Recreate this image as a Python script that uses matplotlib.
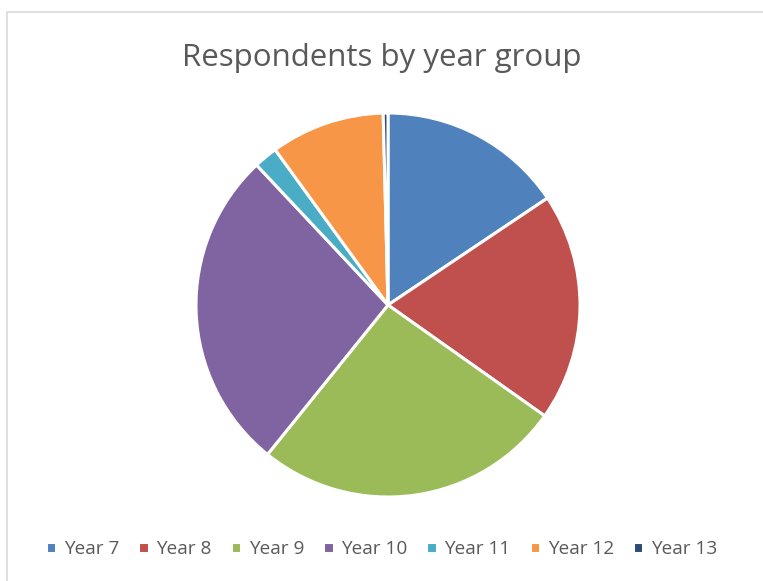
import matplotlib.pyplot as plt
from matplotlib.patches import Rectangle

plt.rcParams['font.family'] = ['Open Sans', 'DejaVu Sans']

groups = ["Year 7", "Year 8", "Year 9", "Year 10", "Year 11", "Year 12", "Year 13"]
respondents = [39, 48, 65, 68, 5, 24, 1]
colors = ["#4F81BD", "#C0504D", "#9BBB59", "#8064A2", "#4BACC6", "#F79646", "#2C4D75"]

W, H = 763, 581
fig = plt.figure(figsize=(W / 100, H / 100), dpi=100)

# chart area border
fig.patches.append(Rectangle((7 / W, -0.01), 1.0, (H - 12) / H + 0.01, transform=fig.transFigure,
                             fill=False, edgecolor="#D9D9D9", linewidth=1.2))

cx, cy, r = 388, 305, 192
ax = fig.add_axes([(cx - r) / W, (H - cy - r) / H, 2 * r / W, 2 * r / H])
wedges, _ = ax.pie(respondents, colors=colors, startangle=90, counterclock=False,
                   wedgeprops=dict(edgecolor="white", linewidth=2.2))
ax.set_xlim(-1, 1)
ax.set_ylim(-1, 1)

fig.text(0.5, (H - 58) / H, "Respondents by year group", ha="center", va="center",
         fontsize=22.5, color="#595959")

fig.legend(wedges, groups, loc="center", bbox_to_anchor=(0.5, (H - 549) / H), ncol=7,
           frameon=False, fontsize=13.7, labelcolor="#595959", handlelength=0.55,
           handleheight=0.55, handletextpad=0.4, columnspacing=1.0)

fig.savefig("out.png", dpi=100)
